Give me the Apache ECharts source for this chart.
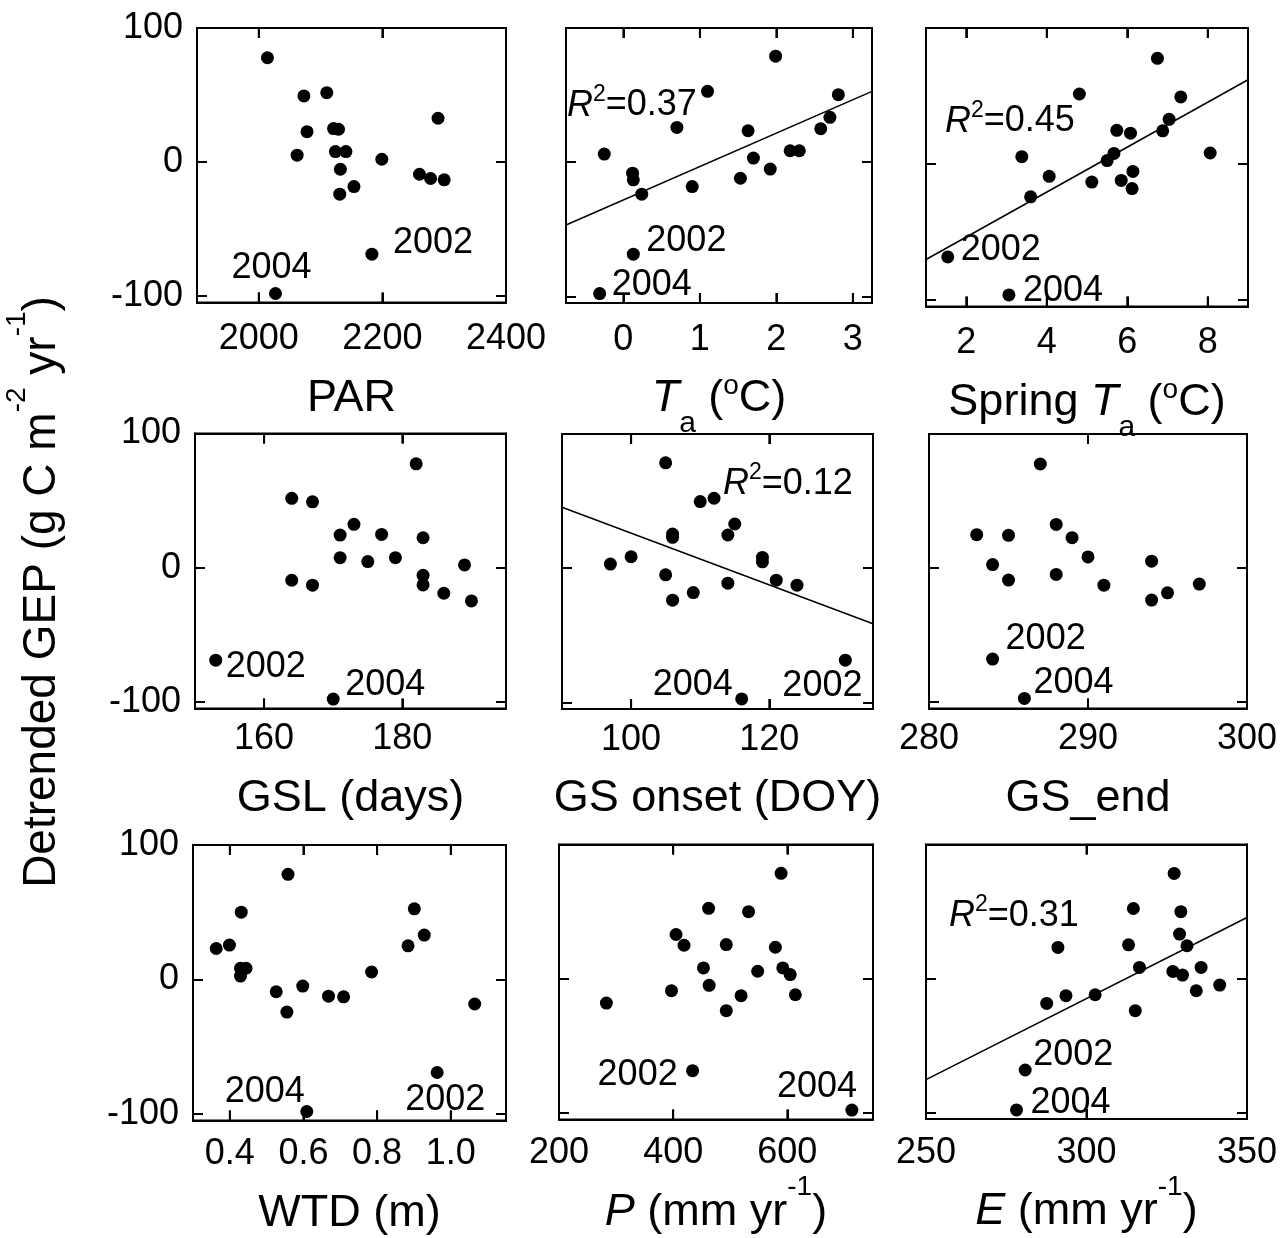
<!DOCTYPE html>
<html><head><meta charset="utf-8">
<script src="https://cdn.jsdelivr.net/npm/echarts@6/dist/echarts.min.js"></script>
<style>html,body{margin:0;padding:0;background:#fff}#c{width:1280px;height:1238px}</style>
</head><body><div id="c"></div>
<script>
// ---- data (last two points of each panel are 2002 and 2004) ----
const parX   = [2014, 2073, 2110, 2078, 2121, 2129, 2062, 2124, 2141, 2132, 2154, 2131, 2199, 2260, 2278, 2300, 2290, 2183, 2027];
const gepPar = [77.8, 49.3, 51.7, 22.6, 24.9, 24.4, 5.0, 7.7, 7.7, -5.5, -18.4, -24.1, 2.0, -9.2, -12.4, -13.4, 32.6, -68.9, -98.3];

const taX   = [1.99, 1.10, 2.81, 0.70, 1.63, 2.70, 2.58, -0.25, 2.18, 2.30, 1.70, 1.92, 0.12, 0.13, 0.24, 0.90, 1.53, 0.13, -0.31];
const gepTa = [79.0, 52.8, 50.3, 25.9, 23.4, 33.4, 24.9, 6.0, 8.5, 8.5, 3.0, -5.2, -8.2, -13.2, -23.9, -18.2, -12.0, -68.6, -98.0];
const taFit = [[-0.75, -46.9], [3.25, 52.8]];

const staX   = [6.75, 4.81, 7.33, 7.04, 6.88, 5.74, 6.08, 8.06, 3.38, 5.67, 5.50, 4.06, 5.12, 5.85, 6.14, 6.12, 3.60, 1.54, 3.06];
const gepSta = [77.7, 51.4, 49.3, 32.8, 24.3, 24.7, 22.6, 8.0, 5.3, 7.7, 2.4, -9.2, -13.4, -12.2, -5.6, -18.2, -24.3, -68.5, -96.5];
const staFit = [[1, -70.4], [9, 61.9]];

const gslX   = [182, 164, 167, 173, 171, 177, 183, 171, 175, 179, 189, 183, 183, 164, 167, 186, 190, 153, 170];
const gepGsl = [77.4, 51.7, 49.1, 32.3, 24.3, 24.8, 22.3, 7.4, 4.5, 7.4, 2.0, -5.7, -12.9, -9.4, -13.1, -19.1, -24.8, -69.0, -98.0];

const onX   = [105, 110, 112, 115, 114, 106, 106, 119, 119, 100, 97, 105, 114, 121, 124, 109, 106, 131, 116];
const gepOn = [78.5, 49.6, 52.1, 32.9, 24.7, 25.4, 23.0, 8.0, 4.7, 8.5, 3.0, -5.0, -11.2, -9.0, -12.7, -18.2, -23.9, -68.6, -97.5];
const onFit = [[90, 45.4], [135, -41.4]];

const endX   = [287, 283, 285, 288, 289, 290, 284, 294, 285, 288, 291, 297, 295, 294, 284, 286];
const gepEnd = [77.6, 24.8, 24.3, 32.5, 22.6, 8.2, 2.5, 5.0, -9.1, -4.9, -12.9, -12.1, -18.6, -24.0, -68.1, -97.5];

const wtdX   = [0.558, 0.431, 0.901, 0.928, 0.884, 0.363, 0.399, 0.444, 0.429, 0.429, 0.785, 0.598, 0.526, 0.668, 0.709, 0.555, 1.065, 0.963, 0.609];
const gepWtd = [78.2, 50.0, 52.5, 33.0, 25.0, 23.0, 25.5, 8.3, 8.3, 2.5, 5.5, -5.0, -9.2, -12.5, -13.0, -24.3, -18.3, -69.3, -98.3];

const pX   = [589, 462, 532, 405, 419, 493, 579, 453, 548, 592, 605, 463, 397, 519, 614, 283, 493, 434, 713];
const gepP = [78.5, 52.4, 49.9, 32.9, 24.9, 25.4, 23.4, 8.0, 5.5, 8.0, 3.0, -5.0, -9.0, -12.7, -12.0, -18.2, -23.9, -68.6, -98.0];

const eX   = [327.3, 314.6, 329.4, 329.0, 331.3, 313.1, 291.1, 316.5, 326.9, 329.9, 335.7, 341.5, 334.2, 302.7, 293.6, 287.6, 315.2, 280.9, 278.2];
const gepE = [78.4, 52.2, 49.8, 33.1, 24.4, 25.1, 23.1, 8.2, 5.2, 2.5, 8.2, -5.0, -9.2, -12.2, -12.9, -18.7, -24.1, -68.4, -98.2];
const eFit = [[250, -75.6], [350, 45.5]];

const noteYears = ['2002', '2004'];
const r2Values = [null, '0.37', '0.45', null, '0.12', null, null, null, '0.31'];

// axis ranges and ticks
const xMins = [1900, -0.75, 1, 150, 90, 280, 0.3, 200, 250];
const xMaxs = [2400, 3.25, 9, 195, 135, 300, 1.15, 750, 350];
const xTicks = [[2000, 2200], [0, 1, 2, 3], [2, 4, 6, 8], [160, 180], [100, 120], [290], [0.4, 0.6, 0.8, 1.0], [400, 600], [300]];
const xTickLabels = [[2000, 2200, 2400], [0, 1, 2, 3], [2, 4, 6, 8], [160, 180], [100, 120], [280, 290, 300], [0.4, 0.6, 0.8, 1.0], [200, 400, 600], [250, 300, 350]];
const yMin = -105, yMax = 100;
const yTicks = [-100, 0, 100];
const yTickLabels = [-100, 0, 100];

const xTitles = ['PAR', '{i|T}{sub|a} ({o|o}C)', 'Spring {i|T}{sub|a} ({o|o}C)', 'GSL (days)', 'GS onset (DOY)', 'GS_end', 'WTD (m)', '{i|P} (mm yr{sup|-1})', '{i|E} (mm yr{sup|-1})'];

// ---- layout & style ----
const FONT = '"Liberation Sans", Arial, sans-serif';
const TICK_LEN = 10;
const boxes = [
  [197, 28, 506, 302.5], [566, 28, 872, 303], [926, 28, 1248, 306.5],
  [195, 433.5, 506, 708.5], [562, 434, 873, 709], [929, 434, 1247, 708.5],
  [193, 845, 506, 1120.5], [559, 844.5, 873, 1119.5], [926, 844.5, 1247, 1119]
];
const labelMargins = [19, 19, 19, 13, 13, 13, 16, 16, 16];
const nameGaps = [50, 50, 50, 49, 49, 49, 51, 51, 51];
const noteOffsets = [
  [[21, -11], [-44, -25]], [[13, -13], [12, -9]], [[13, -7], [14, -4]],
  [[10, 7], [12, -14]], [[-63, 26], [-89, -14]], [[13, -20], [9, -15]],
  [[-32, 28], [-82, -19]], [[-95, 4], [-75, -23]], [[8, -15], [14, -7]]
];
const r2Pos = [null, [567, 105.5], [945, 121.5], null, [723, 484], null, null, null, [949, 916]];

const panelX = [parX, taX, staX, gslX, onX, endX, wtdX, pX, eX];
const panelY = [gepPar, gepTa, gepSta, gepGsl, gepOn, gepEnd, gepWtd, gepP, gepE];
const panelFit = [null, taFit, staFit, null, onFit, null, null, null, eFit];

function titleRich() {
  return {
    i: {fontStyle: 'italic', fontSize: 45, fontFamily: FONT, color: '#000', lineHeight: 80},
    sub: {fontSize: 30, fontFamily: FONT, color: '#000', lineHeight: 30, padding: [50, 0, 0, 0]},
    o: {fontSize: 28, fontFamily: FONT, color: '#000', lineHeight: 28, padding: [0, 0, 25, 0]},
    sup: {fontSize: 28, fontFamily: FONT, color: '#000', lineHeight: 28, padding: [0, 0, 50, 0]}
  };
}
function tick(values) {
  return {show: true, inside: true, length: TICK_LEN, customValues: values, lineStyle: {color: '#000', width: 2}};
}
function edgeLine() { return {show: true, onZero: false, lineStyle: {color: '#000', width: 2}}; }

const grid = [], xAxis = [], yAxis = [], series = [], graphic = [];

for (let i = 0; i < 9; i++) {
  const [l, t, r, b] = boxes[i];
  grid.push({left: l, top: t, width: r - l, height: b - t, show: true, borderColor: '#000', borderWidth: 2, outerBoundsMode: 'none'});
  const fmt = i === 6 ? (v => Number(v).toFixed(1)) : (v => String(v));
  xAxis.push({
    gridIndex: i, type: 'value', position: 'bottom', min: xMins[i], max: xMaxs[i], z: 10,
    axisLine: edgeLine(), splitLine: {show: false},
    axisTick: tick(xTicks[i]),
    axisLabel: {customValues: xTickLabels[i], formatter: fmt, fontSize: 36, fontFamily: FONT, color: '#000', margin: labelMargins[i]},
    name: xTitles[i], nameLocation: 'middle', nameGap: nameGaps[i],
    nameTextStyle: {fontSize: 45, fontFamily: FONT, color: '#000', lineHeight: 80, rich: titleRich()}
  });
  xAxis.push({
    gridIndex: i, type: 'value', position: 'top', min: xMins[i], max: xMaxs[i], z: 10,
    axisLine: edgeLine(), splitLine: {show: false},
    axisTick: tick(xTicks[i]),
    axisLabel: {show: false}
  });
  yAxis.push({
    gridIndex: i, type: 'value', position: 'left', min: yMin, max: yMax, z: 10,
    axisLine: edgeLine(), splitLine: {show: false},
    axisTick: tick(yTicks),
    axisLabel: {show: i % 3 === 0, customValues: yTickLabels, fontSize: 36, fontFamily: FONT, color: '#000', margin: 14}
  });
  yAxis.push({
    gridIndex: i, type: 'value', position: 'right', min: yMin, max: yMax, z: 10,
    axisLine: edgeLine(), splitLine: {show: false},
    axisTick: tick(yTicks),
    axisLabel: {show: false}
  });
  const xs = panelX[i], ys = panelY[i], n = xs.length;
  const data = xs.map((x, k) => {
    const item = {value: [x, ys[k]]};
    const j = k - (n - 2);
    if (j >= 0) {
      item.label = {
        show: true, formatter: noteYears[j], position: 'inside', align: 'left', verticalAlign: 'middle',
        offset: noteOffsets[i][j], fontSize: 36, fontFamily: FONT, color: '#000'
      };
    }
    return item;
  });
  series.push({
    type: 'scatter', xAxisIndex: 2 * i, yAxisIndex: 2 * i, data: data,
    symbol: 'circle', symbolSize: 13, itemStyle: {color: '#000', opacity: 1}, silent: true, z: 3,
    emphasis: {disabled: true}
  });
  if (panelFit[i]) {
    series.push({
      type: 'line', xAxisIndex: 2 * i, yAxisIndex: 2 * i, data: panelFit[i],
      showSymbol: false, symbol: 'none', lineStyle: {color: '#000', width: 1.5}, silent: true, z: 2
    });
  }
  if (r2Values[i]) {
    graphic.push({
      type: 'text', x: r2Pos[i][0], y: r2Pos[i][1], z: 10,
      style: {
        text: '{r|R}{s|2}{b|=' + r2Values[i] + '}', align: 'left', verticalAlign: 'middle',
        rich: {
          r: {fontStyle: 'italic', fontSize: 36, fontFamily: FONT, fill: '#000', lineHeight: 44},
          s: {fontSize: 23, fontFamily: FONT, fill: '#000', lineHeight: 23, padding: [0, 0, 22, 0]},
          b: {fontSize: 36, fontFamily: FONT, fill: '#000', lineHeight: 44}
        }
      }
    });
  }
}

graphic.push({
  type: 'text', x: 42, y: 592, rotation: Math.PI / 2, z: 10,
  style: {
    text: 'Detrended GEP (g C m{s|-2} yr{s|-1})', align: 'center', verticalAlign: 'middle',
    fontSize: 46, fontFamily: FONT, fill: '#000', lineHeight: 80,
    rich: {
      s: {fontSize: 28, fontFamily: FONT, fill: '#000', lineHeight: 28, padding: [0, 0, 50, 0]}
    }
  }
});

const chart = echarts.init(document.getElementById('c'), null, {renderer: 'canvas'});
chart.setOption({animation: false, grid, xAxis, yAxis, series, graphic});

// inward x tick marks on the bottom and top edges, placed through each panel's axis scales
const tickMarks = [];
for (let i = 0; i < 9; i++) {
  const yb = chart.convertToPixel({yAxisIndex: 2 * i}, yMin);
  const yt = chart.convertToPixel({yAxisIndex: 2 * i}, yMax);
  xTicks[i].forEach(v => {
    const px = chart.convertToPixel({xAxisIndex: 2 * i}, v);
    tickMarks.push({type: 'rect', z: 100, silent: true, shape: {x: px - 1, y: yb - TICK_LEN, width: 2, height: TICK_LEN}, style: {fill: '#000'}});
    tickMarks.push({type: 'rect', z: 100, silent: true, shape: {x: px - 1, y: yt, width: 2, height: TICK_LEN}, style: {fill: '#000'}});
  });
}
chart.setOption({graphic: graphic.concat(tickMarks)});
</script>
</body></html>
